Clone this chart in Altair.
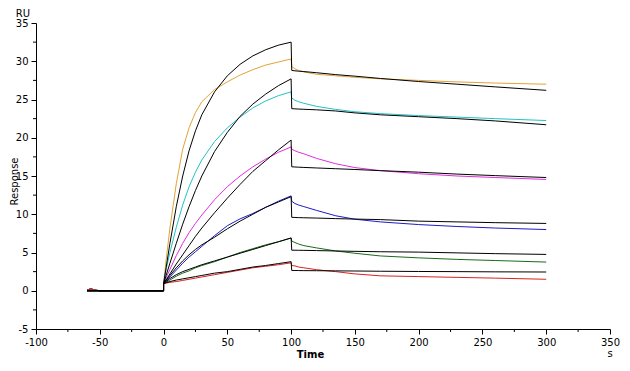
import altair as alt
import pandas as pd

# ---------------- data ----------------
series_names = ["s1", "s2", "s3", "s4", "s5", "s6"]
series_colors = ["#E3A236", "#22C2C6", "#DE2EDE", "#1C1CC8", "#1A6A1A", "#DC2020"]

baseline_t = [-60, -57, -54, -50, 0]
baseline_v = [0.1, 0.25, 0.1, 0.0, 0.0]
fit_baseline_t = [-60, 0]
fit_baseline_v = [0.0, 0.0]

assoc_t = [0, 2, 5, 10, 15, 20, 25, 30, 40, 50, 60, 70, 80, 90, 100]
dissoc_t = [100.5, 103, 106, 110, 120, 135, 150, 170, 200, 230, 260, 300]

data_assoc = [
    [0.9, 4.0, 8.2, 14.0, 18.5, 21.3, 23.3, 24.7, 26.3, 27.3, 28.2, 28.9, 29.5, 29.9, 30.3],
    [0.9, 2.8, 5.0, 8.3, 11.2, 13.6, 15.5, 17.1, 19.5, 21.3, 22.7, 23.9, 24.8, 25.5, 26.0],
    [0.9, 1.7, 2.8, 4.6, 6.2, 7.6, 8.8, 9.9, 11.9, 13.6, 15.0, 16.2, 17.2, 18.1, 18.8],
    [0.9, 1.3, 1.8, 2.7, 3.6, 4.4, 5.1, 5.8, 7.2, 8.5, 9.4, 10.1, 10.9, 11.7, 12.4],
    [0.9, 1.1, 1.4, 1.9, 2.3, 2.6, 3.0, 3.3, 3.8, 4.4, 5.0, 5.5, 6.0, 6.4, 6.9],
    [0.9, 1.0, 1.1, 1.2, 1.35, 1.5, 1.65, 1.8, 2.1, 2.4, 2.7, 3.0, 3.2, 3.4, 3.65],
]
data_dissoc = [
    [29.3, 29.0, 28.8, 28.6, 28.3, 28.1, 27.9, 27.7, 27.5, 27.3, 27.15, 27.0],
    [25.2, 24.9, 24.7, 24.5, 24.1, 23.7, 23.4, 23.15, 22.9, 22.7, 22.5, 22.25],
    [18.5, 18.3, 18.1, 17.9, 17.3, 16.6, 16.1, 15.7, 15.3, 15.0, 14.8, 14.55],
    [11.7, 11.4, 11.2, 11.0, 10.5, 9.8, 9.35, 9.0, 8.65, 8.4, 8.2, 8.0],
    [6.5, 6.3, 6.1, 5.9, 5.6, 5.2, 4.9, 4.55, 4.3, 4.1, 3.95, 3.75],
    [3.3, 3.25, 3.1, 3.0, 2.75, 2.5, 2.2, 1.95, 1.85, 1.75, 1.65, 1.5],
]
fit_assoc = [
    [0.9, 3.0, 6.2, 11.0, 15.0, 18.3, 20.9, 23.0, 26.0, 28.1, 29.6, 30.7, 31.5, 32.1, 32.5],
    [0.9, 2.0, 3.6, 6.2, 8.7, 11.0, 13.1, 15.0, 18.2, 20.7, 22.8, 24.4, 25.7, 26.8, 27.7],
    [0.9, 1.4, 2.2, 3.5, 4.7, 5.9, 7.1, 8.2, 10.2, 12.1, 13.9, 15.6, 17.0, 18.4, 19.7],
    [0.9, 1.4, 2.0, 3.0, 3.9, 4.7, 5.4, 6.0, 7.0, 8.1, 9.1, 10.0, 10.9, 11.6, 12.3],
    [0.9, 1.2, 1.6, 2.1, 2.5, 2.8, 3.1, 3.4, 3.9, 4.4, 4.9, 5.4, 5.9, 6.4, 6.9],
    [0.9, 1.05, 1.2, 1.4, 1.55, 1.7, 1.85, 2.0, 2.3, 2.5, 2.8, 3.1, 3.3, 3.55, 3.8],
]
fit_dissoc = [
    [28.8, 28.75, 28.7, 28.65, 28.5, 28.25, 28.05, 27.75, 27.35, 27.0, 26.65, 26.2],
    [23.8, 23.78, 23.75, 23.72, 23.65, 23.5, 23.25, 23.0, 22.75, 22.5, 22.2, 21.7],
    [16.2, 16.18, 16.15, 16.12, 16.05, 15.95, 15.85, 15.7, 15.5, 15.25, 15.05, 14.8],
    [9.6, 9.58, 9.56, 9.54, 9.5, 9.43, 9.37, 9.3, 9.1, 9.0, 8.9, 8.8],
    [5.3, 5.3, 5.29, 5.28, 5.25, 5.2, 5.15, 5.1, 5.05, 4.95, 4.85, 4.75],
    [2.65, 2.65, 2.64, 2.63, 2.62, 2.6, 2.58, 2.55, 2.52, 2.5, 2.47, 2.45],
]

x_major = [-100, -50, 0, 50, 100, 150, 200, 250, 300, 350]
x_minor = [-75, -25, 25, 75, 125, 175, 225, 275, 325]
y_major = [-5, 0, 5, 10, 15, 20, 25, 30, 35]
y_minor = [-2.5, 2.5, 7.5, 12.5, 17.5, 22.5, 27.5, 32.5]

# ---------------- build tables ----------------
rows = []
for i, name in enumerate(series_names):
    k = 0
    for t, v in zip(baseline_t, baseline_v):
        rows.append(dict(series=name, kind="data", t=t, v=v, idx=k)); k += 1
    for t, v in zip(assoc_t, data_assoc[i]):
        rows.append(dict(series=name, kind="data", t=t, v=v, idx=k)); k += 1
    for t, v in zip(dissoc_t, data_dissoc[i]):
        rows.append(dict(series=name, kind="data", t=t, v=v, idx=k)); k += 1
    k = 0
    for t, v in zip(fit_baseline_t, fit_baseline_v):
        rows.append(dict(series=name, kind="fit", t=t, v=v, idx=k)); k += 1
    for t, v in zip(assoc_t, fit_assoc[i]):
        rows.append(dict(series=name, kind="fit", t=t, v=v, idx=k)); k += 1
    for t, v in zip(dissoc_t, fit_dissoc[i]):
        rows.append(dict(series=name, kind="fit", t=t, v=v, idx=k)); k += 1
df = pd.DataFrame(rows)
df_data = df[df.kind == "data"]
df_fit = df[df.kind == "fit"]

FONT = "DejaVu Sans"
W, H = 574, 306

x_scale = alt.Scale(domain=[-100, 350], nice=False, zero=False)
y_scale = alt.Scale(domain=[-5, 35], nice=False, zero=False)

x_axis = alt.Axis(values=x_major, title="Time", grid=False, tickSize=5,
                  labelFont=FONT, labelFontSize=10, labelPadding=3,
                  labelOverlap=False, labelFlush=False,
                  labelExpr="'' + datum.value",
                  titleFont=FONT, titleFontSize=10, titleFontWeight="bold",
                  titleX=274, titleY=25, titleBaseline="middle")
y_axis = alt.Axis(values=y_major, title="Response", grid=False, tickSize=5,
                  labelFont=FONT, labelFontSize=10, labelPadding=3,
                  labelOverlap=False, labelFlush=False, labelSeparation=0,
                  labelExpr="'' + datum.value",
                  titleFont=FONT, titleFontSize=10, titleFontWeight="normal",
                  titleX=-22, titleY=158, titleAngle=270,
                  titleBaseline="middle", titleAlign="center")

X = alt.X("t:Q", scale=x_scale, axis=x_axis)
Y = alt.Y("v:Q", scale=y_scale, axis=y_axis)

data_layer = alt.Chart(df_data).mark_line(strokeWidth=1).encode(
    x=X, y=Y,
    color=alt.Color("series:N", scale=alt.Scale(domain=series_names, range=series_colors), legend=None),
    order="idx:Q",
)
fit_layer = alt.Chart(df_fit).mark_line(strokeWidth=1, color="black").encode(
    x=X, y=Y,
    detail="series:N",
    order="idx:Q",
)

xminor = alt.Chart(pd.DataFrame({"t": x_minor})).mark_rule(color="black", strokeWidth=1).encode(
    x=X,
    y=alt.value(H), y2=alt.value(H + 3),
)
yminor = alt.Chart(pd.DataFrame({"v": y_minor})).mark_rule(color="black", strokeWidth=1).encode(
    y=Y,
    x=alt.value(-3), x2=alt.value(0),
)

ru = alt.Chart(pd.DataFrame({"lab": ["RU"]})).mark_text(
    font=FONT, fontSize=10, align="center", baseline="middle", color="black"
).encode(text="lab:N", x=alt.value(-13), y=alt.value(-9))
s_unit = alt.Chart(pd.DataFrame({"lab": ["s"]})).mark_text(
    font=FONT, fontSize=10, align="center", baseline="middle", color="black"
).encode(text="lab:N", x=alt.value(W), y=alt.value(H + 25))

chart = alt.layer(data_layer, fit_layer, xminor, yminor, ru, s_unit).properties(
    width=W, height=H,
    autosize=alt.AutoSizeParams(type="none"),
    padding={"left": 28, "top": 15, "right": 12, "bottom": 29},
    background="white",
).configure_view(stroke=None).configure_axis(
    domainColor="black", tickColor="black", labelColor="black", titleColor="black",
    domainWidth=1, tickWidth=1, labelOverlap=False,
).configure_axisY(labelOverlap=False)

chart.save("out.html", embed_options={"renderer": "svg", "actions": False})
